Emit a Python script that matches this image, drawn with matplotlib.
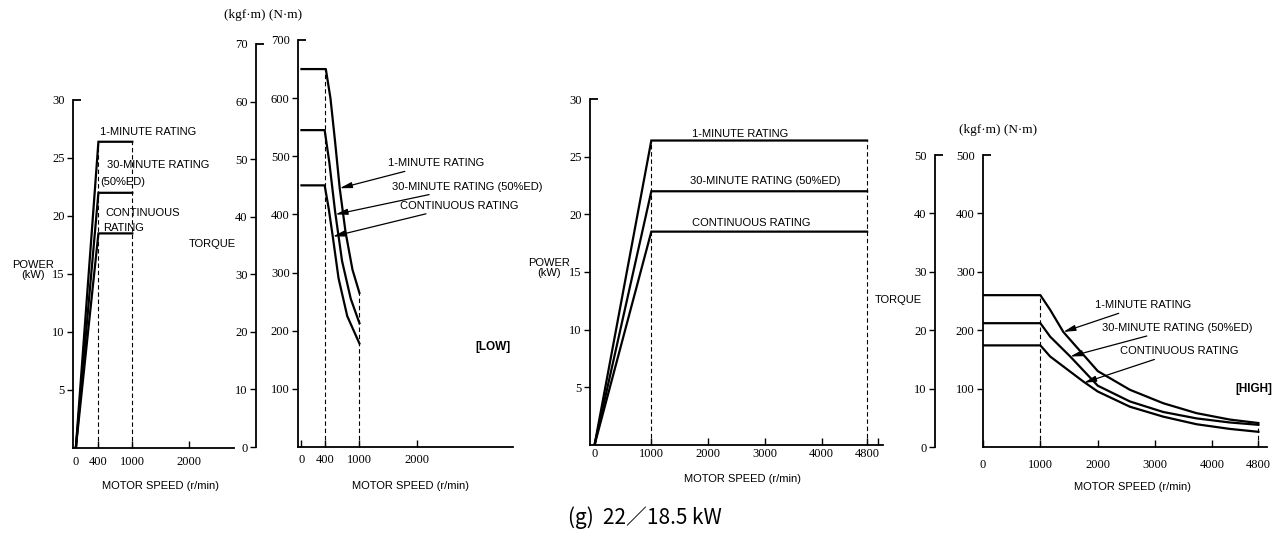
import matplotlib.pyplot as plt

plt.rcParams['font.family'] = ['Liberation Sans', 'DejaVu Sans']

# LOW winding - power
low_speed = [0, 400, 1000]
low_p_1min = [0, 26.4, 26.4]
low_p_30min = [0, 22.0, 22.0]
low_p_cont = [0, 18.5, 18.5]

# LOW winding - torque (N·m)
low_ts_1min = [0, 420, 500, 580, 660, 760, 880, 1000]
low_t_1min = [650, 650, 600, 525, 445, 370, 305, 265]
low_ts_30min = [0, 400, 480, 580, 700, 850, 1000]
low_t_30min = [545, 545, 490, 405, 320, 255, 213]
low_ts_cont = [0, 400, 470, 540, 640, 790, 1000]
low_t_cont = [450, 450, 410, 362, 290, 225, 178]

# HIGH winding - power
high_speed = [0, 1000, 4800]
high_p_1min = [0, 26.4, 26.4]
high_p_30min = [0, 22.0, 22.0]
high_p_cont = [0, 18.5, 18.5]

# HIGH winding - torque (N·m)
high_ts_1min = [0, 1000, 1170, 1400, 2000, 2560, 3140, 3720, 4300, 4800]
high_t_1min = [260, 260, 235, 197, 130, 98, 75, 58, 47, 41]
high_ts_30min = [0, 1000, 1170, 1520, 2000, 2560, 3140, 3720, 4300, 4800]
high_t_30min = [212, 212, 189, 155, 105, 78, 60, 49, 42, 38]
high_ts_cont = [0, 1000, 1170, 1750, 2000, 2560, 3140, 3720, 4300, 4800]
high_t_cont = [174, 174, 155, 112, 95, 69, 52, 39, 31, 26]

W, H = 1282, 540
fig = plt.figure(figsize=(W / 100, H / 100), dpi=100)


def rect(x0, x1, ytop, ybot):
    return [x0 / W, 1 - ybot / H, (x1 - x0) / W, (ybot - ytop) / H]


def ftext(x, y, s, **kw):
    fig.text(x / W, 1 - y / H, s, **kw)


SERIF = 'Liberation Serif'
LW = 1.6
FS = 8
DASH = dict(color='black', lw=0.8, ls=(0, (4, 2.5)))


def style(ax, xlim, ylim, xticks, xlabels, yticks, ytop, xpad=4):
    ax.set_xlim(*xlim)
    ax.set_ylim(*ylim)
    ax.patch.set_visible(False)
    for s in ('top', 'right'):
        ax.spines[s].set_visible(False)
    for s in ('left', 'bottom'):
        ax.spines[s].set_linewidth(1.3)
    ax.set_xticks(xticks, labels=xlabels)
    ax.set_yticks(yticks)
    ax.set_yticks([ytop], labels=[str(ytop)], minor=True)
    ax.tick_params(axis='x', direction='in', length=5, width=1, pad=xpad,
                   labelsize=9, labelfontfamily=SERIF)
    ax.tick_params(axis='y', which='major', direction='out', length=4, width=1,
                   pad=2, labelsize=9, labelfontfamily=SERIF)
    ax.tick_params(axis='y', which='minor', direction='in', length=6, width=1.3,
                   pad=6, labelsize=9, labelfontfamily=SERIF)


def side_axis(x, ytop, ybot, ylim, yticks, top):
    a = fig.add_axes(rect(x, x + 1, ytop, ybot))
    a.set_ylim(*ylim)
    a.set_xticks([])
    a.patch.set_visible(False)
    for s in ('top', 'right', 'bottom'):
        a.spines[s].set_visible(False)
    a.spines['left'].set_linewidth(1.3)
    a.set_yticks(yticks)
    a.set_yticks([top], labels=[str(top)], minor=True)
    a.tick_params(axis='y', which='major', direction='out', length=4, width=1,
                  pad=2, labelsize=9, labelfontfamily=SERIF)
    a.tick_params(axis='y', which='minor', direction='in', length=6, width=1.3,
                  pad=6, labelsize=9, labelfontfamily=SERIF)
    return a


LBL = dict(fontsize=FS, va='center', ha='left')
ARR = dict(arrowstyle='-|>,head_length=0.9,head_width=0.22', color='black',
           lw=0.9, shrinkA=1, shrinkB=0)

# ---------------- LOW power ----------------
axA = fig.add_axes(rect(73, 234, 100, 448))
for p in (low_p_1min, low_p_30min, low_p_cont):
    axA.plot(low_speed, p, color='black', lw=LW, solid_joinstyle='miter')
axA.plot([low_speed[1]] * 2, [0, low_p_1min[1]], **DASH)
axA.plot([low_speed[2]] * 2, [0, low_p_1min[2]], **DASH)
style(axA, (-50, 2800), (0, 30), [0, 400, 1000, 2000], ['0', '400', '1000', '2000'],
      [5, 10, 15, 20, 25], 30, xpad=6)
axA.text(428, 27.2, '1-MINUTE RATING', **LBL)
axA.text(552, 24.4, '30-MINUTE RATING', **LBL)
axA.text(428, 22.9, '(50%ED)', **LBL)
axA.text(516, 20.3, 'CONTINUOUS', **LBL)
axA.text(481, 19.0, 'RATING', **LBL)
ftext(33, 270, 'POWER\n(kW)', fontsize=FS, ha='center', va='center', linespacing=1.1)
ftext(160, 486, 'MOTOR SPEED (r/min)', fontsize=FS, ha='center', va='center')

# ---------------- LOW torque ----------------
axB = fig.add_axes(rect(298, 513, 40, 447))
axB.plot(low_ts_1min, low_t_1min, color='black', lw=LW)
axB.plot(low_ts_30min, low_t_30min, color='black', lw=LW)
axB.plot(low_ts_cont, low_t_cont, color='black', lw=LW)
axB.plot([low_speed[1]] * 2, [0, low_t_1min[1]], **DASH)
axB.plot([low_ts_1min[-1]] * 2, [0, low_t_1min[-1]], **DASH)
style(axB, (-60, 3650), (0, 700), [0, 400, 1000, 2000], ['0', '400', '1000', '2000'],
      [100, 200, 300, 400, 500, 600], 700, xpad=5)
axB.annotate('1-MINUTE RATING', xy=(660, 445), xytext=(1493, 488), arrowprops=ARR, **LBL)
axB.annotate('30-MINUTE RATING (50%ED)', xy=(585, 400), xytext=(1562, 448),
             arrowprops=ARR, **LBL)
axB.annotate('CONTINUOUS RATING', xy=(540, 362), xytext=(1700, 415), arrowprops=ARR, **LBL)
axB.text(3000, 172, '[LOW]', fontsize=8.5, fontweight='bold', ha='left', va='center')
side_axis(256, 44, 447, (0, 70), [0, 10, 20, 30, 40, 50, 60], 70)
ftext(212, 244, 'TORQUE', fontsize=FS, ha='center', va='center')
ftext(263, 15, '(kgf·m) (N·m)', fontsize=9.5, ha='center', va='center', family=SERIF)
ftext(410, 486, 'MOTOR SPEED (r/min)', fontsize=FS, ha='center', va='center')

# ---------------- HIGH power ----------------
axC = fig.add_axes(rect(590, 883, 99, 445))
for p in (high_p_1min, high_p_30min, high_p_cont):
    axC.plot(high_speed, p, color='black', lw=LW, solid_joinstyle='miter')
axC.plot([high_speed[1]] * 2, [0, high_p_1min[1]], **DASH)
axC.plot([high_speed[2]] * 2, [0, high_p_1min[2]], **DASH)
style(axC, (-80, 5080), (0, 30), [0, 1000, 2000, 3000, 4000, 4800],
      ['0', '1000', '2000', '3000', '4000', '4800'], [5, 10, 15, 20, 25], 30, xpad=2)
axC.set_xticks([5000], minor=True)
axC.tick_params(axis='x', which='minor', direction='in', length=5, width=1)
axC.text(1716, 27.0, '1-MINUTE RATING', **LBL)
axC.text(1680, 22.9, '30-MINUTE RATING (50%ED)', **LBL)
axC.text(1716, 19.25, 'CONTINUOUS RATING', **LBL)
ftext(549, 268, 'POWER\n(kW)', fontsize=FS, ha='center', va='center', linespacing=1.1)
ftext(875, 300, 'TORQUE', fontsize=FS, ha='left', va='center')
ftext(742, 479, 'MOTOR SPEED (r/min)', fontsize=FS, ha='center', va='center')

# ---------------- HIGH torque ----------------
axD = fig.add_axes(rect(983, 1267, 155, 447))
axD.plot(high_ts_1min, high_t_1min, color='black', lw=LW)
axD.plot(high_ts_30min, high_t_30min, color='black', lw=LW)
axD.plot(high_ts_cont, high_t_cont, color='black', lw=LW)
axD.plot([high_speed[1]] * 2, [0, high_t_1min[1]], **DASH)
axD.plot([high_speed[2]] * 2, [0, high_t_1min[-1]], **DASH)
style(axD, (0, 4950), (0, 500), [0, 1000, 2000, 3000, 4000, 4800],
      ['0', '1000', '2000', '3000', '4000', '4800'], [100, 200, 300, 400], 500, xpad=9)
axD.annotate('1-MINUTE RATING', xy=(1400, 197), xytext=(1952, 243), arrowprops=ARR, **LBL)
axD.annotate('30-MINUTE RATING (50%ED)', xy=(1520, 155), xytext=(2074, 204),
             arrowprops=ARR, **LBL)
axD.annotate('CONTINUOUS RATING', xy=(1760, 110), xytext=(2388, 164), arrowprops=ARR, **LBL)
axD.text(4400, 100, '[HIGH]', fontsize=8.5, fontweight='bold', ha='left', va='center')
side_axis(935, 155, 447, (0, 50), [0, 10, 20, 30, 40], 50)
ftext(998, 130, '(kgf·m) (N·m)', fontsize=9.5, ha='center', va='center', family=SERIF)
ftext(1132, 487, 'MOTOR SPEED (r/min)', fontsize=FS, ha='center', va='center')

ftext(645, 518, '(g)  22／18.5 kW', fontsize=15, ha='center', va='center',
      family=['Noto Sans CJK JP', 'DejaVu Sans'])

fig.savefig('out.png', dpi=100)
